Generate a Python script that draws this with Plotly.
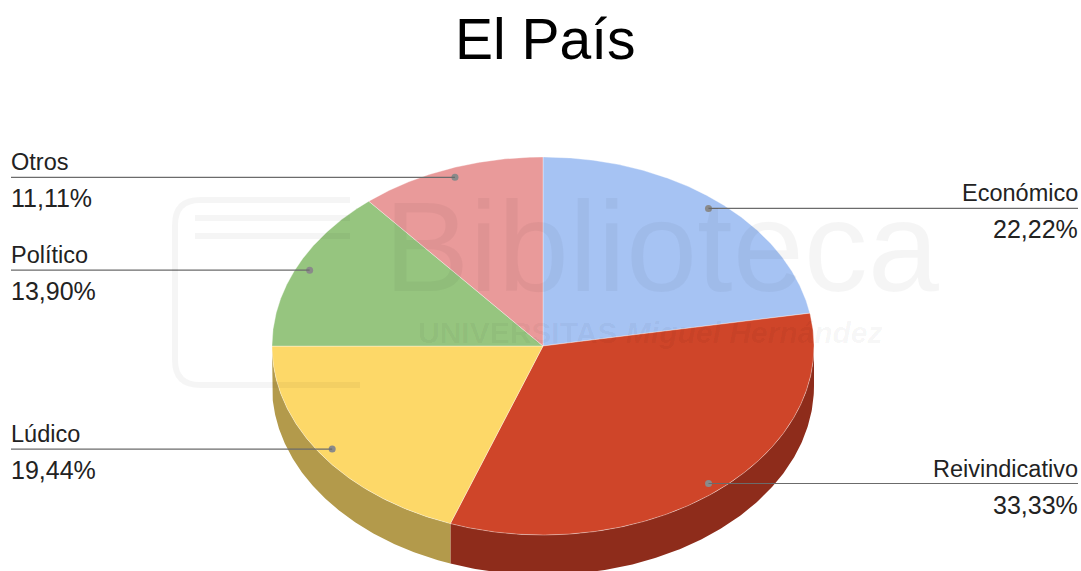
import numpy as np
import plotly.graph_objects as go

# ---- data ----
categories = ["Económico", "Reivindicativo", "Lúdico", "Político", "Otros"]
values = [22.22, 33.33, 19.44, 13.90, 11.11]
pct_labels = ["22,22%", "33,33%", "19,44%", "13,90%", "11,11%"]
top_colors = ["#a6c3f3", "#cf4529", "#fdd868", "#96c57f", "#e99a9a"]
side_colors = ["#6f87b0", "#8e2c1b", "#b39a4b", "#67895a", "#a56c6c"]
title_text = "El País"

# ---- geometry (axes map to page pixels) ----
W, H = 1081, 571
cx, cy, rx, ry, depth = 543, 346, 271, 189, 40

def pt(theta_deg, r=1.0):
    t = np.radians(theta_deg)
    return cx + rx * r * np.sin(t), cy - ry * r * np.cos(t)

total = sum(values)
bounds = np.concatenate([[0], np.cumsum(values) / total * 360])

fig = go.Figure()

# side walls (visible front half: 90..270 deg)
for i in range(len(values)):
    a, b = max(bounds[i], 90), min(bounds[i + 1], 270)
    if b <= a:
        continue
    th = np.linspace(a, b, 200)
    xs, ys = pt(th)
    X = np.concatenate([xs, xs[::-1], [xs[0]]])
    Y = np.concatenate([ys, ys[::-1] + depth, [ys[0]]])
    fig.add_trace(go.Scatter(x=X, y=Y, fill="toself", mode="lines",
                             line=dict(width=0), fillcolor=side_colors[i],
                             hoverinfo="skip", showlegend=False))

# top faces
for i in range(len(values)):
    th = np.linspace(bounds[i], bounds[i + 1], 300)
    xs, ys = pt(th)
    X = np.concatenate([[cx], xs, [cx]])
    Y = np.concatenate([[cy], ys, [cy]])
    fig.add_trace(go.Scatter(x=X, y=Y, fill="toself", mode="lines",
                             line=dict(width=0.6, color="rgba(255,255,255,0.6)"),
                             fillcolor=top_colors[i],
                             hoverinfo="skip", showlegend=False))

annotations = []
shapes = []
dots_x, dots_y = [], []
font = "Liberation Sans, Arial, sans-serif"
for i, cat in enumerate(categories):
    mid = (bounds[i] + bounds[i + 1]) / 2
    dx, dy = pt(mid, 0.95)
    dots_x.append(dx); dots_y.append(dy)
    right = np.sin(np.radians(mid)) > 0
    lx = 1078 if right else 11
    tx = 1080 if right else 9
    shapes.append(dict(type="line", x0=dx, y0=dy, x1=lx, y1=dy,
                       line=dict(color="#6b6b6b", width=1.2), layer="above"))
    anchor = "right" if right else "left"
    annotations.append(dict(x=tx, y=dy, text=cat, showarrow=False,
                            xanchor=anchor, yanchor="bottom", yshift=0,
                            font=dict(family=font, size=23.5, color="#222222")))
    annotations.append(dict(x=tx, y=dy, text=pct_labels[i], showarrow=False,
                            xanchor=anchor, yanchor="top", yshift=-5,
                            font=dict(family=font, size=25, color="#222222")))

fig.add_trace(go.Scatter(x=dots_x, y=dots_y, mode="markers",
                         marker=dict(size=7, color="#8a8a8a"),
                         hoverinfo="skip", showlegend=False))

# title
annotations.append(dict(x=545, y=39, text=title_text, showarrow=False,
                        xanchor="center", yanchor="middle",
                        font=dict(family=font, size=57, color="#000000")))

# faint watermark
annotations.append(dict(x=662, y=246, text="Biblioteca", showarrow=False,
                        xanchor="center", yanchor="middle",
                        font=dict(family=font, size=128, color="rgba(0,0,0,0.04)")))
annotations.append(dict(x=650, y=332, text="<b>UNIVERSITAS</b> <b><i>Miguel Hernández</i></b>",
                        showarrow=False, xanchor="center", yanchor="middle",
                        font=dict(family=font, size=30, color="rgba(0,0,0,0.045)")))
wm = "rgba(0,0,0,0.04)"
shapes.append(dict(type="path",
                   path="M 200 200 L 350 200 M 200 200 Q 175 200 175 225 L 175 360 Q 175 385 200 385 L 360 385",
                   line=dict(color=wm, width=6), layer="above"))
shapes.append(dict(type="line", x0=195, y0=218, x1=350, y1=218, line=dict(color=wm, width=6), layer="above"))
shapes.append(dict(type="line", x0=195, y0=236, x1=350, y1=236, line=dict(color=wm, width=6), layer="above"))

fig.update_layout(
    width=W, height=H,
    margin=dict(l=0, r=0, t=0, b=0),
    paper_bgcolor="white", plot_bgcolor="white",
    xaxis=dict(range=[0, W], visible=False, fixedrange=True),
    yaxis=dict(range=[H, 0], visible=False, fixedrange=True),
    shapes=shapes, annotations=annotations,
)

fig.write_html("out.html", config={"displayModeBar": False, "staticPlot": True},
               post_script="document.body.style.margin='0px';document.body.style.overflow='hidden';")
